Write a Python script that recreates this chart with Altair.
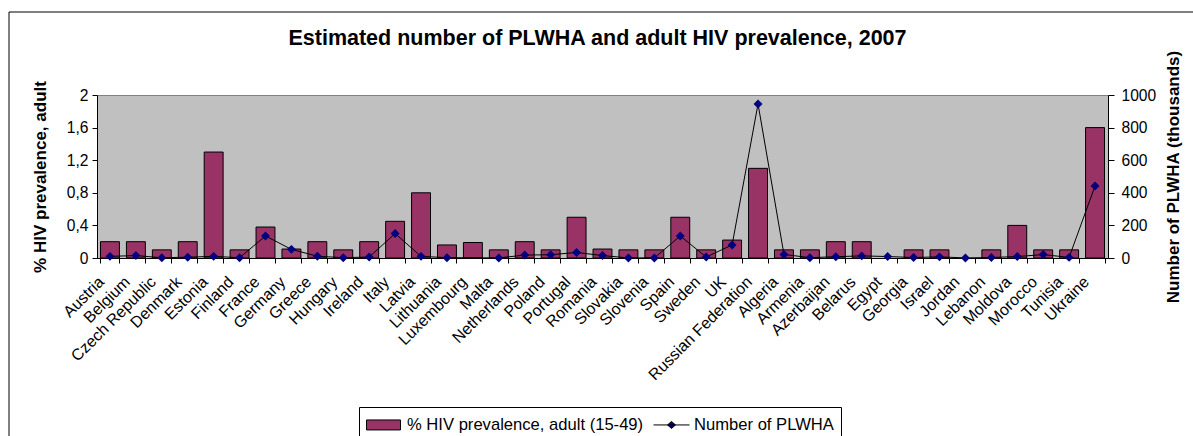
import altair as alt
import pandas as pd

countries = ["Austria", "Belgium", "Czech Republic", "Denmark", "Estonia", "Finland",
             "France", "Germany", "Greece", "Hungary", "Ireland", "Italy", "Latvia",
             "Lithuania", "Luxembourg", "Malta", "Netherlands", "Poland", "Portugal",
             "Romania", "Slovakia", "Slovenia", "Spain", "Sweden", "UK",
             "Russian Federation", "Algeria", "Armenia", "Azerbaijan", "Belarus",
             "Egypt", "Georgia", "Israel", "Jordan", "Lebanon", "Moldova", "Morocco",
             "Tunisia", "Ukraine"]
prevalence = [0.2, 0.2, 0.1, 0.2, 1.3, 0.1, 0.38, 0.11, 0.2, 0.1, 0.2, 0.45, 0.8,
              0.16, 0.19, 0.1, 0.2, 0.1, 0.5, 0.11, 0.1, 0.1, 0.5, 0.1, 0.22,
              1.1, 0.1, 0.1, 0.2, 0.2, None, 0.1, 0.1, None, 0.1, 0.4, 0.1,
              0.1, 1.6]
plwha = [10, 15, 1.5, 5, 10, 2, 135, 53, 11, 2, 6, 150, 10, 2, None, 0.5, 18, 20, 34,
         15, 0.5, 0.5, 135, 6, 80, 945, 22, 2, 8, 13, 9, 3, 7, 0.5, 3, 9, 21, 3.7, 442]
series_names = ["% HIV prevalence, adult (15-49)", "Number of PLWHA"]
left_ticks = [0, 0.4, 0.8, 1.2, 1.6, 2]
right_ticks = [0, 200, 400, 600, 800, 1000]

FONT = "Liberation Sans"
W, H = 1011, 163

df = pd.DataFrame({"country": countries, "prevalence": prevalence, "plwha": plwha})

color_scale = alt.Scale(domain=series_names, range=["#993366", "#000080"])
stroke_scale = alt.Scale(domain=series_names, range=["black", "black"])
line_path = "M-1,0H2.6M0.8,-0.35L1.2,0L0.8,0.35L0.4,0Z"
bar_path = "M-1,-0.5H2.4V0.5H-1Z"
shape_scale = alt.Scale(domain=series_names, range=[bar_path, line_path])

legend = alt.Legend(
    title=None, orient="none", legendX=262, legendY=312, direction="horizontal",
    padding=7, strokeColor="black", fillColor="white", labelFont=FONT,
    labelFontSize=16.6, labelColor="black", symbolSize=400, labelOffset=20,
    labelLimit=600, columnPadding=7, cornerRadius=0, symbolStrokeWidth=1,
    symbolOpacity=1,
)

x_enc = alt.X(
    "country:N", sort=countries,
    scale=alt.Scale(paddingInner=0.27, paddingOuter=0.135),
    axis=alt.Axis(title=None, labelAngle=315, labelAlign="right", labelBaseline="middle",
                  labelOffset=-9, labelPadding=16, labelOverlap=False, labelLimit=0,
                  tickBand="extent", tickSize=5, labelFontSize=16),
)

bars = alt.Chart(df).transform_calculate(series="'" + series_names[0] + "'").mark_bar(
    stroke="black", strokeWidth=1, opacity=1
).encode(
    x=x_enc,
    y=alt.Y("prevalence:Q", scale=alt.Scale(domain=[0, 2], nice=False),
            axis=alt.Axis(values=left_ticks, format="~g",
                          labelExpr="replace(datum.label, '.', ',')",
                          title="% HIV prevalence, adult", titleX=-52, titleY=H / 2,
                          titleAngle=270, titleAlign="center", titleBaseline="alphabetic",
                          tickSize=5, labelPadding=4, grid=False)),
    color=alt.Color("series:N", scale=color_scale, legend=legend),
)

y_right = alt.Y("plwha:Q", scale=alt.Scale(domain=[0, 1000], nice=False),
                axis=alt.Axis(orient="right", values=right_ticks, format="d",
                              title="Number of PLWHA (thousands)", titleX=70, titleY=H / 2,
                              titleAngle=270, titleAlign="center",
                              titleBaseline="alphabetic", tickSize=6, labelPadding=7,
                              grid=False))

base2 = alt.Chart(df).transform_filter("isValid(datum.plwha)").transform_calculate(
    series="'" + series_names[1] + "'")
line = base2.mark_line(color="black", strokeWidth=1).encode(x=x_enc, y=y_right)
points = base2.mark_point(shape="diamond", filled=True, size=80, opacity=1).encode(
    x=x_enc, y=y_right,
    color=alt.Color("series:N", scale=color_scale, legend=legend),
)
# carries the legend symbol shapes and outlines only (no rows drawn)
legend_shapes = base2.transform_filter("false").mark_point(filled=True).encode(
    x=x_enc, y=y_right,
    color=alt.Color("series:N", scale=color_scale, legend=legend),
    shape=alt.Shape("series:N", scale=shape_scale, legend=legend),
    stroke=alt.Stroke("series:N", scale=stroke_scale, legend=legend),
)

frame = alt.Chart(alt.Data(values=[{"a": 1}])).mark_rect(
    fill="white", fillOpacity=0, stroke="black", strokeWidth=1
).encode(x=alt.value(-88), x2=alt.value(1105), y=alt.value(-83), y2=alt.value(350))

chart = alt.layer(frame, bars, alt.layer(line, points, legend_shapes)).resolve_scale(
    y="independent"
).properties(
    width=W, height=H,
    title=alt.Title("Estimated number of PLWHA and adult HIV prevalence, 2007",
                    font=FONT, fontSize=21.5, fontWeight="bold", color="black",
                    anchor="middle", baseline="alphabetic", offset=0, dy=55, dx=-5),
    autosize=alt.AutoSizeParams(type="none"),
    padding={"left": 97, "top": 95, "right": 85, "bottom": 178},
    background="white",
).configure_view(
    fill="#C0C0C0", stroke="#808080", strokeWidth=1
).configure_axis(
    labelFont=FONT, labelFontSize=15.6, labelColor="black",
    titleFont=FONT, titleFontSize=17, titleFontWeight="bold", titleColor="black",
    domainColor="black", tickColor="black", domainWidth=1, tickWidth=1,
)

chart.save("out.html", embed_options={"renderer": "svg", "actions": False})
